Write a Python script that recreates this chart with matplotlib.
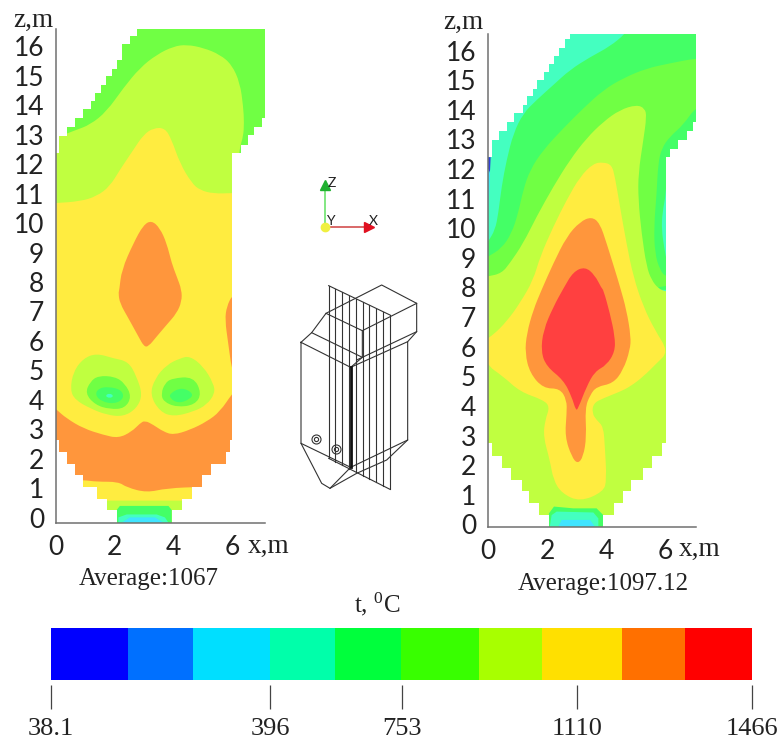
import matplotlib
matplotlib.use('Agg')
import matplotlib.pyplot as plt
from matplotlib.path import Path
from matplotlib.patches import PathPatch, Polygon

W, H = 778, 743
SANS = 'Lato'
SERIF = 'Liberation Serif'

# colours of the contour bands, as they look in the furnace sections
BLUE = '#3040D8'
CYAN = '#40E4FF'
MINT = '#44FFC0'
SPRING = '#44FF66'
GREEN = '#70FF44'
LIME = '#C0FF40'
YELLOW = '#FFEC40'
ORANGE = '#FF963C'
RED = '#FF4040'

Z_TICKS = list(range(17))
X_TICKS = [0, 2, 4, 6]

# ---- left section, all outlines are (x, z) in metres ----
L_OUTLINE = [(2.76, 16.76), (7.10, 16.76), (7.10, 13.75), (6.99, 13.75), (6.99, 13.45), (6.74, 13.45),
             (6.74, 13.16), (6.51, 13.16), (6.51, 12.82), (6.27, 12.82), (6.27, 12.55), (5.99, 12.55),
             (5.99, 2.81), (5.91, 2.81), (5.91, 2.40), (5.78, 2.40), (5.78, 1.98), (5.25, 1.98),
             (5.25, 1.62), (4.97, 1.62), (4.97, 1.22), (4.61, 1.22), (4.61, 0.80), (4.27, 0.80),
             (4.27, 0.43), (3.93, 0.43), (3.93, 0), (2.06, 0), (2.06, 0.43), (1.74, 0.43),
             (1.74, 0.80), (1.40, 0.80), (1.40, 1.22), (0.93, 1.22), (0.93, 1.62), (0.65, 1.62),
             (0.65, 1.98), (0.36, 1.98), (0.36, 2.40), (0.11, 2.40), (0.11, 2.81), (0, 2.81),
             (0, 12.55), (0.11, 12.55), (0.11, 13.14), (0.36, 13.14), (0.36, 13.43), (0.65, 13.43),
             (0.65, 13.74), (0.93, 13.74), (0.93, 14.04), (1.18, 14.04), (1.18, 14.30), (1.33, 14.30),
             (1.33, 14.59), (1.52, 14.59), (1.52, 14.87), (1.70, 14.87), (1.70, 15.15), (1.89, 15.15),
             (1.89, 15.41), (2.06, 15.41), (2.06, 15.70), (2.25, 15.70), (2.25, 16.26), (2.51, 16.26),
             (2.51, 16.51), (2.76, 16.51)]
L_LIME = [(-0.2, 13.11), (0.11, 13.11), (0.65, 13.32), (1.16, 13.51), (1.72, 13.96), (2.29, 14.76),
          (2.85, 15.44), (3.42, 15.89), (3.99, 16.17), (4.44, 16.23), (5.01, 16.12), (5.57, 15.89),
          (5.97, 15.55), (6.25, 14.93), (6.36, 14.13), (6.39, 13.57), (6.36, 13.11), (6.25, 12.77),
          (6.2, 12.3), (6.2, 0.2), (6.2, -0.1), (5.9, -0.1), (-0.2, -0.1), (-0.2, 0.2), (-0.2, 12.8)]
L_YELLOW = [(-0.2, 10.85), (0, 10.85), (0.82, 10.91), (1.38, 11.08), (1.83, 11.42), (2.17, 11.98),
            (2.63, 12.66), (2.97, 13.17), (3.31, 13.40), (3.70, 13.40), (3.93, 13.0), (4.21, 12.2),
            (4.61, 11.53), (4.89, 11.29), (5.35, 11.17), (5.99, 11.19), (6.2, 11.19), (6.2, 10.9),
            (6.2, 1.0), (6.2, 0.75), (5.9, 0.75), (0.1, 0.75), (-0.2, 0.75), (-0.2, 1.0), (-0.2, 10.6)]
L_ORANGE = [(-0.2, 4.05), (0, 3.85), (0.36, 3.54), (0.93, 3.20), (1.61, 2.98), (2.12, 2.87), (2.57, 3.09),
            (2.85, 3.37), (3.02, 3.47), (3.31, 3.32), (3.65, 3.09), (3.99, 2.98), (4.55, 3.15),
            (5.12, 3.43), (5.57, 3.77), (5.99, 4.39), (6.2, 4.6), (6.2, 4.3), (6.2, 1.5), (6.2, 1.22),
            (5.9, 1.22), (4.97, 1.22), (3.76, 1.17), (3.08, 1.02), (2.40, 1.20), (2.12, 1.39),
            (1.38, 1.39), (0.93, 1.45), (0.1, 1.45), (-0.2, 1.45), (-0.2, 1.7), (-0.2, 3.8)]
L_CORE = [(3.25, 10.26), (3.53, 10.0), (3.76, 9.49), (3.93, 8.81), (4.10, 8.36), (4.27, 7.90), (4.27, 7.51),
          (4.10, 7.11), (3.76, 6.72), (3.42, 6.32), (3.14, 5.98), (2.99, 5.98), (2.80, 6.32), (2.46, 6.94),
          (2.17, 7.45), (2.12, 7.79), (2.15, 7.90), (2.23, 8.58), (2.63, 9.49), (2.97, 10.11)]
L_SLIVER = [(6.2, 7.73), (5.99, 7.73), (5.80, 7.34), (5.74, 6.89), (5.85, 6.09), (5.99, 5.07), (6.2, 5.07)]
L_LOBE_LIME_A = [(1.38, 5.75), (1.95, 5.58), (2.46, 5.47), (2.74, 4.96), (2.94, 4.34), (2.74, 3.88), (2.29, 3.60),
                 (1.72, 3.66), (1.16, 3.88), (0.65, 4.17), (0.48, 4.51), (0.59, 5.13), (0.93, 5.58)]
L_LOBE_GREEN_A = [(1.44, 4.99), (2.0, 4.96), (2.34, 4.73), (2.57, 4.28), (2.34, 3.88), (1.83, 3.85), (1.33, 4.0),
                  (0.99, 4.39), (1.16, 4.79)]
L_LOBE_SPRING_A = [(1.78, 4.62), (2.23, 4.51), (2.31, 4.22), (2.0, 4.03), (1.55, 4.11), (1.33, 4.34), (1.44, 4.56)]
L_LOBE_MINT_A = [(1.66, 4.31), (1.82, 4.40), (1.97, 4.30), (1.82, 4.22)]
L_LOBE_LIME_B = [(4.55, 5.66), (5.01, 5.30), (5.35, 4.73), (5.40, 4.39), (5.12, 4.0), (4.67, 3.77), (3.99, 3.60),
                 (3.53, 3.77), (3.19, 4.34), (3.36, 4.90), (3.76, 5.36), (4.21, 5.58)]
L_LOBE_GREEN_B = [(3.93, 4.90), (4.67, 4.96), (4.95, 4.39), (4.72, 4.0), (4.10, 3.92), (3.65, 4.11), (3.57, 4.39),
                  (3.70, 4.73)]
L_LOBE_SPRING_B = [(4.27, 4.60), (4.67, 4.39), (4.55, 4.19), (4.16, 4.05), (3.87, 4.22), (3.87, 4.39)]
L_BLOCK_SPRING = [(2.06, 0), (2.06, 0.43), (2.17, 0.57), (3.82, 0.57), (3.93, 0.43), (3.93, 0)]
L_BLOCK_MINT = [(2.12, 0), (2.12, 0.18), (2.40, 0.28), (3.42, 0.28), (3.70, 0.18), (3.82, 0)]
L_BLOCK_CYAN = [(2.23, 0), (2.51, 0.18), (3.36, 0.18), (3.65, 0)]

# ---- right section ----
R_OUTLINE = [(2.77, 16.64), (7.03, 16.64), (7.03, 13.68), (6.94, 13.68), (6.94, 13.38), (6.71, 13.38),
             (6.71, 13.06), (6.43, 13.06), (6.43, 12.76), (6.15, 12.76), (6.15, 12.48), (6.0, 12.48),
             (6.0, 2.82), (5.89, 2.82), (5.89, 2.40), (5.55, 2.40), (5.55, 1.97), (5.23, 1.97),
             (5.23, 1.58), (4.85, 1.58), (4.85, 1.20), (4.57, 1.20), (4.57, 0.79), (4.26, 0.79),
             (4.26, 0.39), (3.90, 0.39), (3.90, 0), (2.06, 0), (2.06, 0.39), (1.73, 0.39),
             (1.73, 0.79), (1.40, 0.79), (1.40, 1.20), (1.14, 1.20), (1.14, 1.58), (0.77, 1.58),
             (0.77, 1.97), (0.46, 1.97), (0.46, 2.40), (0.15, 2.40), (0.15, 2.82), (0, 2.82),
             (0, 12.48), (0.14, 12.48), (0.14, 13.06), (0.38, 13.06), (0.38, 13.38), (0.65, 13.38),
             (0.65, 13.67), (0.89, 13.67), (0.89, 13.96), (1.17, 13.96), (1.17, 14.25), (1.31, 14.25),
             (1.31, 14.53), (1.51, 14.53), (1.51, 14.79), (1.67, 14.79), (1.67, 15.09), (1.89, 15.09),
             (1.89, 15.35), (2.06, 15.35), (2.06, 15.63), (2.24, 15.63), (2.24, 15.90), (2.41, 15.90),
             (2.41, 16.16), (2.59, 16.16), (2.59, 16.46), (2.77, 16.46)]
R_WALL_BLUE = [(0, 12.48), (0.09, 12.48), (0.07, 12.05), (0, 11.7)]
R_WALL_CYAN = [(0, 12.1), (0.07, 11.94), (0.05, 11.4), (0, 10.7)]
R_SPRING = [(4.63, 16.64), (4.85, 16.95), (7.2, 16.95), (7.5, 16.95), (7.5, 16.6), (7.5, 12.7), (7.5, 12.48),
            (7.1, 12.48), (6.2, 12.48), (6.05, 12.2), (6.02, 11.26), (5.89, 10.59), (5.87, 10.02), (5.95, 9.46),
            (6.05, 8.90), (6.3, 8.7), (6.3, 8.2), (6.3, 8.0), (6.0, 8.0), (-0.2, 8.0), (-0.2, 8.3), (-0.2, 9.3),
            (0, 9.63), (0.24, 10.02), (0.35, 10.59), (0.46, 11.49), (0.63, 12.39), (0.86, 13.29), (1.19, 13.96),
            (1.64, 14.41), (2.21, 14.92), (2.77, 15.43), (3.45, 15.86), (4.12, 16.22)]
R_GREEN = [(7.5, 15.82), (7.03, 15.82), (6.15, 15.65), (5.36, 15.48), (4.57, 15.15), (3.90, 14.75), (3.22, 14.13),
           (2.55, 13.46), (1.87, 12.73), (1.42, 12.05), (1.19, 11.37), (1.02, 10.59), (0.80, 9.91), (0.46, 9.40),
           (0, 9.12), (-0.2, 9.0), (-0.2, 8.7), (-0.2, 8.0), (6.2, 8.0), (6.2, 8.45), (6.0, 8.45), (5.81, 8.67),
           (5.64, 9.23), (5.61, 10.14), (5.70, 11.26), (5.75, 12.27), (5.87, 12.78), (6.15, 13.18), (6.60, 13.57),
           (7.03, 14.19), (7.5, 14.19), (7.5, 14.5), (7.5, 15.5)]
R_LIME = [(5.02, 14.25), (5.30, 14.13), (5.36, 13.85), (5.25, 13.06), (5.08, 11.94), (5.08, 11.04), (5.19, 9.91),
          (5.36, 8.78), (5.53, 8.33), (5.75, 8.05), (6.0, 7.94), (6.2, 7.94), (6.2, 7.6), (6.2, 0.2), (6.2, -0.1),
          (5.9, -0.1), (-0.2, -0.1), (-0.2, 0.2), (-0.2, 8.2), (-0.2, 8.45), (0, 8.45), (0.46, 8.56), (0.74, 8.90),
          (1.19, 9.57), (1.64, 10.47), (2.21, 11.49), (2.77, 12.39), (3.33, 13.12), (3.90, 13.68), (4.46, 14.08)]
R_YELLOW = [(3.90, 12.31), (4.18, 12.22), (4.29, 11.82), (4.46, 10.81), (4.68, 9.57), (4.91, 8.45), (5.25, 7.43),
            (5.64, 6.64), (6.1, 5.91), (5.70, 5.52), (5.25, 5.07), (4.80, 4.73), (4.46, 4.56), (3.90, 4.34),
            (3.56, 4.17), (3.52, 3.83), (3.67, 3.60), (3.90, 3.38), (3.95, 2.70), (4.01, 1.58), (3.90, 1.18),
            (3.11, 0.84), (2.49, 1.13), (2.21, 1.58), (2.09, 2.25), (1.87, 3.04), (1.93, 3.60), (2.09, 4.05),
            (1.87, 4.28), (1.08, 4.56), (0.52, 5.07), (-0.1, 5.5), (-0.1, 6.31), (0.18, 6.48), (0.63, 6.93),
            (1.08, 7.55), (1.53, 8.33), (1.76, 9.12), (2.21, 10.14), (2.66, 11.04), (3.11, 11.82), (3.56, 12.27)]
R_ORANGE = [(3.50, 10.47), (3.78, 10.25), (4.01, 9.57), (4.29, 8.67), (4.46, 8.11), (4.68, 7.32), (4.83, 6.42),
            (4.80, 5.97), (4.57, 5.29), (4.23, 4.84), (3.67, 4.73), (3.45, 4.45), (3.28, 4.0), (3.33, 3.04),
            (3.22, 2.36), (3.03, 2.12), (2.83, 2.36), (2.60, 3.04), (2.66, 3.83), (2.66, 4.28), (2.43, 4.67),
            (1.87, 4.67), (1.42, 5.18), (1.25, 5.86), (1.31, 6.53), (1.53, 7.32), (1.81, 8.0), (2.21, 8.90),
            (2.66, 9.80), (3.11, 10.30)]
R_RED = [(3.28, 8.78), (3.61, 8.50), (3.84, 8.05), (3.90, 8.0), (4.12, 7.21), (4.29, 6.42), (4.29, 5.91),
         (4.01, 5.46), (3.61, 5.24), (3.33, 4.73), (3.05, 4.0), (2.97, 3.92), (2.83, 4.39), (2.55, 4.95),
         (1.98, 5.41), (1.79, 5.91), (1.87, 6.64), (2.21, 7.43), (2.55, 8.05), (2.88, 8.61)]
R_BLOCK_SPRING = [(2.06, 0), (2.06, 0.45), (2.23, 0.68), (2.88, 0.62), (3.67, 0.62), (3.90, 0.39), (3.90, 0)]
R_BLOCK_MINT = [(2.09, 0), (2.15, 0.39), (2.32, 0.51), (3.56, 0.48), (3.73, 0.28), (3.73, 0)]
R_BLOCK_CYAN = [(2.38, 0), (2.49, 0.23), (3.45, 0.23), (3.61, 0)]

# ---- colour bar, positions as percent of bar length ----
BAR_EDGES = [0, 10.98, 20.27, 31.24, 40.51, 49.97, 61.1, 70.1, 81.4, 90.5, 100]
BAR_COLORS = ['#0000FF', '#0070FF', '#00DFFF', '#00FFAA', '#00FF3C',
              '#38FF00', '#A8FF00', '#FFE000', '#FF7000', '#FF0000']
BAR_TICKS = [0, 31.24, 50.0, 75.1, 100]
BAR_LABELS = ['38.1', '396', '753', '1110', '1466']

# ---- little wireframe of the furnace, in sketch units ----
SLICE_X = [146, 165, 187, 208, 228, 249, 268, 289, 308, 330]
SLICE_TOP = [377, 386, 397, 407, 416, 427, 436, 446, 455, 465]
SLICE_BOTTOM = [895, 905, 916, 926, 937, 947, 957, 967, 978, 988]
WIRE_LINES = [[(63, 547), (212, 622), (383, 545), (383, 840), (212, 922), (63, 850), (63, 547)],
              [(63, 850), (125, 970), (150, 985), (212, 922)],
              [(150, 985), (230, 940), (320, 900), (383, 840)],
              [(63, 547), (95, 518), (138, 460), (247, 512), (247, 592), (212, 622)],
              [(95, 518), (247, 592)],
              [(138, 460), (305, 375), (410, 430), (410, 515), (230, 600)],
              [(247, 512), (410, 430)],
              [(410, 515), (383, 545)],
              [(146, 377), (330, 465)],
              [(146, 895), (330, 988)]]
THICK_EDGE = [(212, 622), (212, 922)]
BURNER_X = [108, 169]
BURNER_Y = [838, 868]


def add_axes_px(fig, left, bottom, right, top):
    return fig.add_axes([left / W, 1 - bottom / H, (right - left) / W, (bottom - top) / H])


def fig_text(fig, x, y, s, **kwargs):
    fig.text(x / W, 1 - y / H, s, ha='center', va='center', **kwargs)


def smooth_patch(points, color):
    # closed quadratic curve through the midpoints, looks like the smooth contour bands
    n = len(points)
    mids = [((points[i][0] + points[(i + 1) % n][0]) / 2,
             (points[i][1] + points[(i + 1) % n][1]) / 2) for i in range(n)]
    verts = [mids[-1]]
    codes = [Path.MOVETO]
    for i in range(n):
        verts += [points[i], mids[i]]
        codes += [Path.CURVE3, Path.CURVE3]
    verts.append(mids[-1])
    codes.append(Path.CLOSEPOLY)
    return PathPatch(Path(verts, codes), facecolor=color, edgecolor='none')


def plot_section(ax, outline, base, bands, blocks, z_shift):
    """Draws one furnace section, every band is clipped to the stepped outline."""
    shape = Polygon(outline, closed=True, facecolor=base, edgecolor='none')
    ax.add_patch(shape)
    for points, color in bands:
        patch = smooth_patch(points, color)
        ax.add_patch(patch)
        patch.set_clip_path(shape)
    for points, color in blocks:
        patch = Polygon(points, closed=True, facecolor=color, edgecolor='none')
        ax.add_patch(patch)
        patch.set_clip_path(shape)
    ax.set_facecolor('none')
    for side in ['top', 'right']:
        ax.spines[side].set_visible(False)
    for side in ['left', 'bottom']:
        ax.spines[side].set_color('#707070')
        ax.spines[side].set_linewidth(1.1)
    ax.set_xticks(X_TICKS)
    ax.set_xticklabels([str(t) for t in X_TICKS], fontsize=19, family=SANS, color='#222222')
    ax.set_yticks([t + z_shift for t in Z_TICKS])
    ax.set_yticklabels([str(t) for t in Z_TICKS], fontsize=19, family=SANS, color='#222222')
    ax.tick_params(axis='x', length=0, pad=8.5)
    ax.tick_params(axis='y', length=0, pad=8.5)


def main():
    fig = plt.figure(figsize=(W / 100, H / 100), dpi=100, facecolor='white')

    ax_left = add_axes_px(fig, 56, 522.7, 265, 29)
    ax_left.set_xlim(0, 7.10)
    ax_left.set_ylim(0, 16.76)
    plot_section(ax_left, L_OUTLINE, GREEN,
                 [(L_LIME, LIME), (L_YELLOW, YELLOW), (L_ORANGE, ORANGE), (L_CORE, ORANGE),
                  (L_SLIVER, ORANGE), (L_LOBE_LIME_A, LIME), (L_LOBE_GREEN_A, GREEN),
                  (L_LOBE_SPRING_A, SPRING), (L_LOBE_MINT_A, MINT), (L_LOBE_LIME_B, LIME),
                  (L_LOBE_GREEN_B, GREEN), (L_LOBE_SPRING_B, SPRING)],
                 [(L_BLOCK_SPRING, SPRING), (L_BLOCK_MINT, MINT), (L_BLOCK_CYAN, CYAN)], 0.17)

    ax_right = add_axes_px(fig, 488, 526.7, 696, 34)
    ax_right.set_xlim(0, 7.03)
    ax_right.set_ylim(0, 16.64)
    plot_section(ax_right, R_OUTLINE, MINT,
                 [(R_SPRING, SPRING), (R_GREEN, GREEN), (R_LIME, LIME), (R_YELLOW, YELLOW),
                  (R_ORANGE, ORANGE), (R_RED, RED)],
                 [(R_WALL_BLUE, BLUE), (R_WALL_CYAN, CYAN), (R_BLOCK_SPRING, SPRING),
                  (R_BLOCK_MINT, MINT), (R_BLOCK_CYAN, CYAN)], 0.08)

    # axis names and averages
    serif = dict(family=SERIF, color='#222222')
    fig_text(fig, 33, 20, 'z,m', fontsize=19.5, **serif)
    fig_text(fig, 463, 22, 'z,m', fontsize=19.5, **serif)
    fig_text(fig, 269, 546, 'x,m', fontsize=19.5, **serif)
    fig_text(fig, 700, 549, 'x,m', fontsize=19.5, **serif)
    fig_text(fig, 149, 579, 'Average:1067', fontsize=18, **serif)
    fig_text(fig, 603, 584, 'Average:1097.12', fontsize=18, **serif)
    plt.rcParams['mathtext.default'] = 'regular'
    fig_text(fig, 377, 604, 't, $^{0}$C', fontsize=18, **serif)

    # colour bar
    ax_bar = add_axes_px(fig, 51, 680, 752, 628)
    ax_bar.barh(0, [b - a for a, b in zip(BAR_EDGES[:-1], BAR_EDGES[1:])], left=BAR_EDGES[:-1],
                height=1, color=BAR_COLORS)
    ax_bar.set_xlim(0, 100)
    ax_bar.set_ylim(-0.5, 0.5)
    ax_bar.axis('off')

    ax_ticks = add_axes_px(fig, 51, 709, 752, 685)
    ax_ticks.vlines(BAR_TICKS, 0, 1, color='#444444', linewidth=0.9, clip_on=False)
    ax_ticks.set_xlim(0, 100)
    ax_ticks.set_ylim(0, 1)
    ax_ticks.set_yticks([])
    ax_ticks.set_xticks(BAR_TICKS)
    ax_ticks.set_xticklabels(BAR_LABELS, fontsize=19, family=SERIF, color='#222222')
    ax_ticks.tick_params(axis='x', length=0, pad=6.8)
    for spine in ax_ticks.spines.values():
        spine.set_visible(False)
    ax_ticks.set_facecolor('none')

    # coordinate triad and wireframe sketch
    ax_sketch = add_axes_px(fig, 280, 500, 440, 160)
    ax_sketch.set_xlim(0, 480)
    ax_sketch.set_ylim(1020, 0)
    ax_sketch.axis('off')
    ax_sketch.plot([135, 135], [200, 70], color='#60E060', linewidth=1.1)
    ax_sketch.plot([135, 265], [200, 200], color='#D04040', linewidth=1.1)
    ax_sketch.plot([135], [75], marker='^', color='#20B030', markersize=7)
    ax_sketch.plot([268], [201], marker='>', color='#E01020', markersize=7)
    ax_sketch.plot([135], [201], marker='o', color='#F0F040', markersize=6)
    ax_sketch.text(155, 70, 'Z', fontsize=10, family=SANS, ha='center', va='center', color='#222222')
    ax_sketch.text(152, 184, 'Y', fontsize=10, family=SANS, ha='center', va='center', color='#222222')
    ax_sketch.text(281, 184, 'X', fontsize=10, family=SANS, ha='center', va='center', color='#222222')
    for x, top, bottom in zip(SLICE_X, SLICE_TOP, SLICE_BOTTOM):
        ax_sketch.plot([x, x], [top, bottom], color='#333333', linewidth=0.8)
    for line in WIRE_LINES:
        ax_sketch.plot([p[0] for p in line], [p[1] for p in line], color='#333333', linewidth=0.8)
    ax_sketch.plot([p[0] for p in THICK_EDGE], [p[1] for p in THICK_EDGE], color='#111111', linewidth=2)
    ax_sketch.plot(BURNER_X, BURNER_Y, linestyle='none', marker='o', markersize=6.5,
                   markerfacecolor='none', markeredgecolor='#333333', markeredgewidth=0.8)
    ax_sketch.plot(BURNER_X, BURNER_Y, linestyle='none', marker='o', markersize=3,
                   markerfacecolor='none', markeredgecolor='#333333', markeredgewidth=0.8)

    fig.savefig('out.png', dpi=100)


if __name__ == '__main__':
    main()
